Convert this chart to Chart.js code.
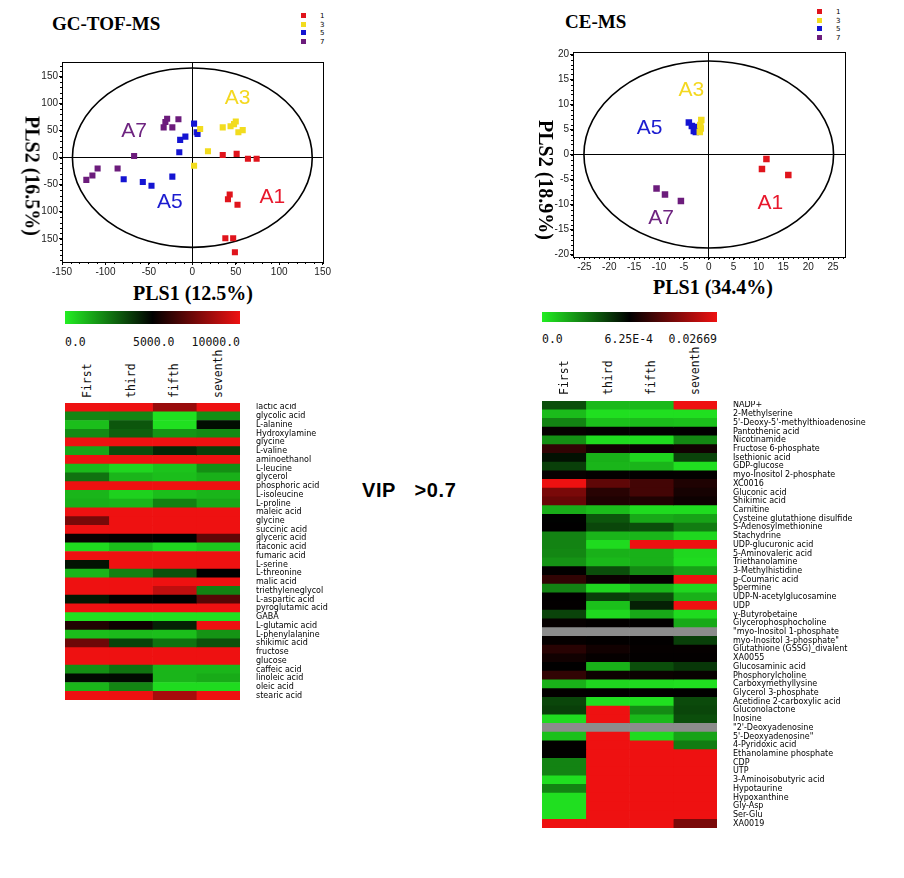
<!DOCTYPE html>
<html>
<head>
<meta charset="utf-8">
<script src="https://cdn.jsdelivr.net/npm/chart.js@4.4.1/dist/chart.umd.min.js"></script>
<style>
  body { margin: 0; background: #fff; }
  #page { position: relative; width: 904px; height: 878px; overflow: hidden; background: #fff; }
  #page canvas { position: absolute; }
  .txt { position: absolute; white-space: nowrap; color: #000; }
  .serif { font-family: "Liberation Serif", "DejaVu Serif", serif; font-weight: bold; }
  .mono { font-family: "DejaVu Sans Mono", "Liberation Mono", monospace; font-size: 11.5px; line-height: 12px; color: #111; }
  .vert { transform: rotate(-90deg); transform-origin: 0 0; }
  .bar { position: absolute; background: linear-gradient(to right, #22ee22, #000 50%, #ee1111); }
  .leg { position: absolute; font: 7px "DejaVu Sans", sans-serif; line-height: 8.5px; }
  .leg span { display: inline-block; width: 5px; height: 5px; margin-right: 14px; }
</style>
</head>
<body>
<div id="page">
  <div class="txt serif" style="left:52px;top:13px;font-size:19px;">GC-TOF-MS</div>
  <div class="txt serif" style="left:565px;top:11px;font-size:19px;">CE-MS</div>

  <div class="leg" style="left:301px;top:12px;">
    <div><span style="background:#e0141c"></span>1</div>
    <div><span style="background:#f2dc1e"></span>3</div>
    <div><span style="background:#1414d2"></span>5</div>
    <div><span style="background:#6c1c7c"></span>7</div>
  </div>
  <div class="leg" style="left:817px;top:8px;">
    <div><span style="background:#e0141c"></span>1</div>
    <div><span style="background:#f2dc1e"></span>3</div>
    <div><span style="background:#1414d2"></span>5</div>
    <div><span style="background:#6c1c7c"></span>7</div>
  </div>

  <canvas id="gcScatter" width="310" height="225" style="left:22px;top:55px;"></canvas>
  <canvas id="ceScatter" width="320" height="230" style="left:533px;top:45px;"></canvas>

  <div class="txt serif" style="left:193px;top:293px;font-size:20px;transform:translate(-50%,-50%);">PLS1 (12.5%)</div>
  <div class="txt serif" style="left:32px;top:176px;font-size:20px;transform:translate(-50%,-50%) rotate(90deg);">PLS2 (16.5%)</div>
  <div class="txt serif" style="left:713px;top:287px;font-size:20px;transform:translate(-50%,-50%);">PLS1 (34.4%)</div>
  <div class="txt serif" style="left:545px;top:180px;font-size:20px;transform:translate(-50%,-50%) rotate(90deg);">PLS2 (18.9%)</div>

  <div class="bar" style="left:65px;top:311px;width:175px;height:13px;"></div>
  <div class="txt mono" style="left:65px;top:336px;">0.0</div>
  <div class="txt mono" style="left:133px;top:336px;width:40px;text-align:right;">5000.0</div>
  <div class="txt mono" style="left:180px;top:336px;width:60px;text-align:right;">10000.0</div>

  <div class="bar" style="left:542px;top:312px;width:175px;height:10px;"></div>
  <div class="txt mono" style="left:542px;top:333px;">0.0</div>
  <div class="txt mono" style="left:593px;top:333px;width:60px;text-align:right;">6.25E-4</div>
  <div class="txt mono" style="left:657px;top:333px;width:60px;text-align:right;">0.02669</div>

  <div id="gcCols"></div>
  <div id="ceCols"></div>

  <div class="txt" style="left:362px;top:479px;font:bold 20px 'Liberation Sans', Arial, sans-serif;letter-spacing:0.6px;">VIP&nbsp;&nbsp; &gt;0.7</div>

  <canvas id="gcHeat" width="305" height="297" style="left:65px;top:403px;"></canvas>
  <canvas id="ceHeat" width="345" height="427" style="left:542px;top:401px;"></canvas>
</div>

<script>
// ---- score plots ----
var groupNames = ['1', '3', '5', '7'];
var groupColors = ['#e0141c', '#f2dc1e', '#1414d2', '#6c1c7c'];
var areaNames = ['A1', 'A3', 'A5', 'A7'];
var areaColors = ['#e8182c', '#f4d820', '#1c1cd0', '#6e2480'];

// GC-TOF-MS scores (PLS1, PLS2)
var gc1 = [[35, 5], [51, 7], [64, -2], [74, -2], [43, -68], [41, -77], [52, -87], [38, -149], [47, -149], [49, -175]];
var gc3 = [[9, 53], [35, 56], [44, 58], [50, 67], [48, 62], [53, 47], [58, 51], [18, 12], [2, -15]];
var gc5 = [[2, 63], [5, 47], [6, 44], [-8, 39], [-14, 33], [-15, 10], [-23, -35], [-47, -52], [-57, -45], [-79, -40]];
var gc7 = [[-29, 72], [-31, 66], [-16, 71], [-23, 56], [-33, 56], [-67, 3], [-86, -20], [-109, -20], [-115, -33], [-122, -41]];
var gcXTicks = [-150, -100, -50, 0, 50, 100, 150];
var gcYTicks = [-150, -100, -50, 0, 50, 100, 150];
var gcYTickLabels = ['150', '100', '-50', '0', '50', '100', '150'];
var gcEllipse = [138, 166];
var gcAreaAt = [[92, -74], [52, 110], [-26, -83], [-67, 49]];

// CE-MS scores
var ce1 = [[11.6, -0.9], [10.7, -2.9], [16.0, -4.1]];
var ce3 = [[-1.5, 6.9], [-1.7, 5.9], [-1.8, 4.5], [-1.6, 5.2]];
var ce5 = [[-4.0, 6.4], [-3.4, 5.7], [-3.0, 4.7], [-2.7, 5.5], [-2.6, 4.5]];
var ce7 = [[-10.5, -6.8], [-8.8, -8.0], [-5.6, -9.3]];
var ceXTicks = [-25, -20, -15, -10, -5, 0, 5, 10, 15, 20, 25];
var ceYTicks = [-20, -15, -10, -5, 0, 5, 10, 15, 20];
var ceEllipse = [25.1, 18.7];
var ceAreaAt = [[12.4, -9.8], [-3.5, 12.9], [-11.9, 5.3], [-9.6, -12.8]];

// ---- heatmaps ----
var columns = ['First', 'third', 'fifth', 'seventh'];

var gcRows = ['lactic acid', 'glycolic acid', 'L-alanine', 'Hydroxylamine', 'glycine', 'L-valine',
  'aminoethanol', 'L-leucine', 'glycerol', 'phosphoric acid', 'L-isoleucine', 'L-proline', 'maleic acid',
  'glycine', 'succinic acid', 'glyceric acid', 'itaconic acid', 'fumaric acid', 'L-serine', 'L-threonine',
  'malic acid', 'triethyleneglycol', 'L-aspartic acid', 'pyroglutamic acid', 'GABA', 'L-glutamic acid',
  'L-phenylalanine', 'shikimic acid', 'fructose', 'glucose', 'caffeic acid', 'linoleic acid', 'oleic acid',
  'stearic acid'];
var gcValues = [
  [10000, 10000, 8200, 10000], [2200, 2200, 300, 2000], [1000, 3200, 300, 4700], [2100, 3000, 1900, 2100],
  [10000, 10000, 10000, 10000], [1500, 3400, 4200, 3700], [10000, 10000, 10000, 10000], [1100, 500, 900, 2000],
  [2600, 1200, 1000, 1300], [10000, 10000, 10000, 10000], [1200, 600, 1000, 1200], [1300, 1200, 2300, 1500],
  [10000, 10000, 10000, 10000], [7500, 10000, 10000, 10000], [10000, 10000, 10000, 10000], [5200, 5100, 5000, 7000],
  [400, 1000, 500, 800], [10000, 10000, 10000, 10000], [4600, 10000, 10000, 10000], [1200, 2300, 3300, 5000],
  [10000, 10000, 10000, 10000], [10000, 10000, 9000, 2300], [4500, 5100, 5000, 6800], [10000, 10000, 10000, 10000],
  [300, 300, 300, 300], [5700, 5300, 4300, 10000], [1000, 1100, 1000, 1900], [7300, 3600, 2600, 3300],
  [10000, 10000, 10000, 10000], [10000, 10000, 10000, 10000], [2000, 2600, 1200, 1200], [4800, 4800, 1200, 1400],
  [1200, 2200, 400, 400], [10000, 10000, 8500, 10000]
];
var gcScale = [0, 5000, 10000];

var ceRows = ['NADP+', '2-Methylserine', "5'-Deoxy-5'-methylthioadenosine", 'Pantothenic acid', 'Nicotinamide',
  'Fructose 6-phosphate', 'Isethionic acid', 'GDP-glucose', 'myo-Inositol 2-phosphate', 'XC0016', 'Gluconic acid',
  'Shikimic acid', 'Carnitine', 'Cysteine glutathione disulfide', 'S-Adenosylmethionine', 'Stachydrine',
  'UDP-glucuronic acid', '5-Aminovaleric acid', 'Triethanolamine', '3-Methylhistidine', 'p-Coumaric acid',
  'Spermine', 'UDP-N-acetylglucosamine', 'UDP', '\u03b3-Butyrobetaine', 'Glycerophosphocholine',
  '"myo-Inositol 1-phosphate', 'myo-Inositol 3-phosphate"', 'Glutathione (GSSG)_divalent', 'XA0055',
  'Glucosaminic acid', 'Phosphorylcholine', 'Carboxymethyllysine', 'Glycerol 3-phosphate',
  'Acetidine 2-carboxylic acid', 'Gluconolactone', 'Inosine', '"2\'-Deoxyadenosine', "5'-Deoxyadenosine\"",
  '4-Pyridoxic acid', 'Ethanolamine phosphate', 'CDP', 'UTP', '3-Aminoisobutyric acid', 'Hypotaurine',
  'Hypoxanthine', 'Gly-Asp', 'Ser-Glu', 'XA0019'];
var ceValues = [
  [0.00042, 0.00014, 0.00014, 0.0267], [0.00013, 0.00004, 0.00004, 0.00004], [0.00028, 0.00012, 0.00013, 0.00012],
  [0.0013, 0.0008, 0.0007, 0.0007], [0.00025, 0.00005, 0.00005, 0.00027], [0.006, 0.0025, 0.0015, 0.0025],
  [0.00058, 0.00016, 0.00006, 0.00045], [0.00046, 0.00015, 0.00015, 0.00004], [0.0015, 0.0009, 0.0008, 0.0009],
  [0.0267, 0.011, 0.008, 0.004], [0.014, 0.005, 0.008, 0.003], [0.012, 0.004, 0.004, 0.002],
  [0.00017, 0.00013, 0.00005, 0.00005], [0.00062, 0.0004, 0.00018, 0.0002], [0.0007, 0.00044, 0.00042, 0.0003],
  [0.00028, 0.00015, 0.00015, 0.00006], [0.00028, 0.00005, 0.0267, 0.0267], [0.00027, 0.00016, 0.00016, 0.00006],
  [0.00024, 0.00014, 0.00016, 0.00005], [0.0008, 0.00042, 0.00026, 0.0002], [0.006, 0.0018, 0.0012, 0.0267],
  [0.00028, 0.00006, 0.00015, 0.00006], [0.0008, 0.00046, 0.00042, 0.00016], [0.0009, 0.00012, 0.00054, 0.0267],
  [0.00045, 0.00006, 0.00018, 0.00005], [0.0014, 0.0009, 0.0008, 0.00018], [null, null, null, null],
  [0.0012, 0.0008, 0.0008, 0.00046], [0.005, 0.0025, 0.0012, 0.0012], [0.0025, 0.0012, 0.0009, 0.0009],
  [0.0007, 0.00016, 0.00042, 0.00048], [0.006, 0.002, 0.0018, 0.0015], [0.00016, 0.00006, 0.00005, 0.00004],
  [0.001, 0.0008, 0.0008, 0.0007], [0.00044, 0.00004, 0.00004, 0.00043], [0.00046, 0.0267, 0.00026, 0.00044],
  [0.00005, 0.0267, 0.00014, 0.00042], [null, null, null, null], [0.00012, 0.0267, 0.00005, 0.0002],
  [0.0008, 0.0267, 0.0267, 0.0003], [0.0008, 0.0267, 0.0267, 0.0267], [0.00028, 0.0267, 0.0267, 0.0267],
  [0.00028, 0.0267, 0.0267, 0.0267], [0.00004, 0.0267, 0.0267, 0.0267], [0.00028, 0.0267, 0.0267, 0.0267],
  [0.00004, 0.0267, 0.0267, 0.0267], [0.00004, 0.0267, 0.0267, 0.0267], [0.00004, 0.0267, 0.0267, 0.0267],
  [0.0267, 0.0267, 0.0267, 0.014]
];
var ceScale = [0, 0.000625, 0.02669];

// colour: green at min, black at mid, red at max, grey when missing
function heatColor(v, scale) {
  if (v === null) return '#8c8c8c';
  var f;
  if (v <= scale[1]) {
    f = Math.max(0, Math.min(1, (scale[1] - v) / (scale[1] - scale[0])));
    return 'rgb(' + Math.round(34 * f) + ',' + Math.round(238 * f) + ',' + Math.round(34 * f) + ')';
  }
  f = Math.max(0, Math.min(1, (v - scale[1]) / (scale[2] - scale[1])));
  return 'rgb(' + Math.round(238 * f) + ',' + Math.round(17 * f) + ',' + Math.round(17 * f) + ')';
}

// frame, ellipse, minor ticks and group letters for the score plots
var scorePlugin = {
  id: 'scoreExtras',
  beforeDatasetsDraw: function(chart, args, o) {
    var c = chart.ctx, x = chart.scales.x, y = chart.scales.y;
    var cx = x.getPixelForValue(0), cy = y.getPixelForValue(0);
    c.save();
    c.strokeStyle = '#000';
    c.lineWidth = 1.6;
    c.beginPath();
    c.ellipse(cx, cy, Math.abs(x.getPixelForValue(o.ellipse[0]) - cx), Math.abs(y.getPixelForValue(o.ellipse[1]) - cy), 0, 0, Math.PI * 2);
    c.stroke();
    c.restore();
  },
  afterDraw: function(chart, args, o) {
    var c = chart.ctx, a = chart.chartArea, x = chart.scales.x, y = chart.scales.y, v;
    c.save();
    c.strokeStyle = '#000';
    c.lineWidth = 1;
    c.strokeRect(Math.round(a.left) + 0.5, Math.round(a.top) + 0.5, Math.round(a.right - a.left), Math.round(a.bottom - a.top));
    c.beginPath();
    for (v = Math.ceil(x.min / o.minor) * o.minor; v <= x.max; v += o.minor) {
      var px = Math.round(x.getPixelForValue(v)) + 0.5;
      c.moveTo(px, a.bottom); c.lineTo(px, a.bottom + 2);
    }
    for (v = Math.ceil(y.min / o.minor) * o.minor; v <= y.max; v += o.minor) {
      var py = Math.round(y.getPixelForValue(v)) + 0.5;
      c.moveTo(a.left, py); c.lineTo(a.left - 2, py);
    }
    c.stroke();
    c.font = '21px "Liberation Sans", Arial, sans-serif';
    c.textAlign = 'center';
    c.textBaseline = 'middle';
    o.labelsAt.forEach(function(p, i) {
      c.fillStyle = areaColors[i];
      c.fillText(areaNames[i], x.getPixelForValue(p[0]), y.getPixelForValue(p[1]));
    });
    c.restore();
  }
};

function toXY(list) {
  return list.map(function(p) { return { x: p[0], y: p[1] }; });
}

function makeScatter(id, sets, cfg) {
  var zeroOnly = function(ctx) { return ctx.tick && ctx.tick.value === 0 ? '#000' : 'rgba(0,0,0,0)'; };
  var tickFont = { size: 10, family: '"Liberation Sans", Arial, sans-serif' };
  new Chart(document.getElementById(id), {
    type: 'scatter',
    data: {
      datasets: sets.map(function(s, i) {
        return {
          label: groupNames[i],
          data: toXY(s),
          backgroundColor: groupColors[i],
          borderWidth: 0,
          pointStyle: 'rect',
          pointRadius: cfg.radius
        };
      })
    },
    options: {
      responsive: false,
      animation: false,
      layout: { padding: { top: cfg.padTop, right: 8, left: 0, bottom: 0 } },
      plugins: {
        legend: { display: false },
        tooltip: { enabled: false },
        scoreExtras: { ellipse: cfg.ellipse, minor: cfg.minor, labelsAt: cfg.labelsAt }
      },
      scales: {
        x: {
          type: 'linear', min: cfg.xRange[0], max: cfg.xRange[1],
          afterBuildTicks: function(s) { s.ticks = cfg.xTicks.map(function(v) { return { value: v }; }); },
          afterFit: function(s) { s.height = 18; },
          grid: { color: zeroOnly, tickColor: '#000', tickLength: 3, lineWidth: 1 },
          border: { color: '#000' },
          ticks: { font: tickFont, color: '#222', padding: 1, maxRotation: 0 }
        },
        y: {
          type: 'linear', min: cfg.yRange[0], max: cfg.yRange[1],
          afterBuildTicks: function(s) { s.ticks = cfg.yTicks.map(function(v) { return { value: v }; }); },
          afterFit: function(s) { s.width = 40; },
          grid: { color: zeroOnly, tickColor: '#000', tickLength: 3, lineWidth: 1 },
          border: { color: '#000' },
          ticks: {
            font: tickFont, color: '#222', padding: 1,
            callback: function(v, i) { return cfg.yLabels ? cfg.yLabels[i] : v; }
          }
        }
      }
    },
    plugins: [scorePlugin]
  });
}

function makeHeat(id, rows, values, scale, labelWidth) {
  new Chart(document.getElementById(id), {
    type: 'bar',
    data: {
      labels: rows,
      datasets: columns.map(function(c, j) {
        return {
          label: c,
          data: rows.map(function() { return 1; }),
          backgroundColor: values.map(function(r) { return heatColor(r[j], scale); }),
          borderWidth: 0,
          barPercentage: 1,
          categoryPercentage: 1
        };
      })
    },
    options: {
      indexAxis: 'y',
      responsive: false,
      animation: false,
      layout: { padding: 0 },
      plugins: { legend: { display: false }, tooltip: { enabled: false } },
      scales: {
        x: { stacked: true, display: false, min: 0, max: columns.length },
        y: {
          stacked: true,
          position: 'right',
          // no extra room above/below the cells: the label column only sets the width
          afterFit: function(s) { s.width = labelWidth; s.paddingTop = 0; s.paddingBottom = 0; },
          grid: { display: false, drawTicks: false },
          border: { display: false },
          ticks: { autoSkip: false, padding: 16, color: '#000', font: { size: 8, family: '"DejaVu Sans", sans-serif' } }
        }
      }
    }
  });
}

// rotated column headers above each heatmap
function colHeaders(boxId, left, bottom) {
  var box = document.getElementById(boxId);
  columns.forEach(function(c, j) {
    var d = document.createElement('div');
    d.className = 'txt mono vert';
    d.textContent = c;
    d.style.left = (left + 43.75 * j + 21.9 - 6) + 'px';
    d.style.top = bottom + 'px';
    box.appendChild(d);
  });
}

makeScatter('gcScatter', [gc1, gc3, gc5, gc7], {
  xRange: [-150, 150], yRange: [-193, 177], xTicks: gcXTicks, yTicks: gcYTicks, yLabels: gcYTickLabels,
  ellipse: gcEllipse, minor: 10, labelsAt: gcAreaAt, radius: 4.3, padTop: 5
});
makeScatter('ceScatter', [ce1, ce3, ce5, ce7], {
  xRange: [-27.3, 27.4], yRange: [-20.5, 20.5], xTicks: ceXTicks, yTicks: ceYTicks, yLabels: null,
  ellipse: ceEllipse, minor: 1, labelsAt: ceAreaAt, radius: 4.6, padTop: 7
});
makeHeat('gcHeat', gcRows, gcValues, gcScale, 130);
makeHeat('ceHeat', ceRows, ceValues, ceScale, 170);
colHeaders('gcCols', 65, 398);
colHeaders('ceCols', 542, 395);
</script>
</body>
</html>
